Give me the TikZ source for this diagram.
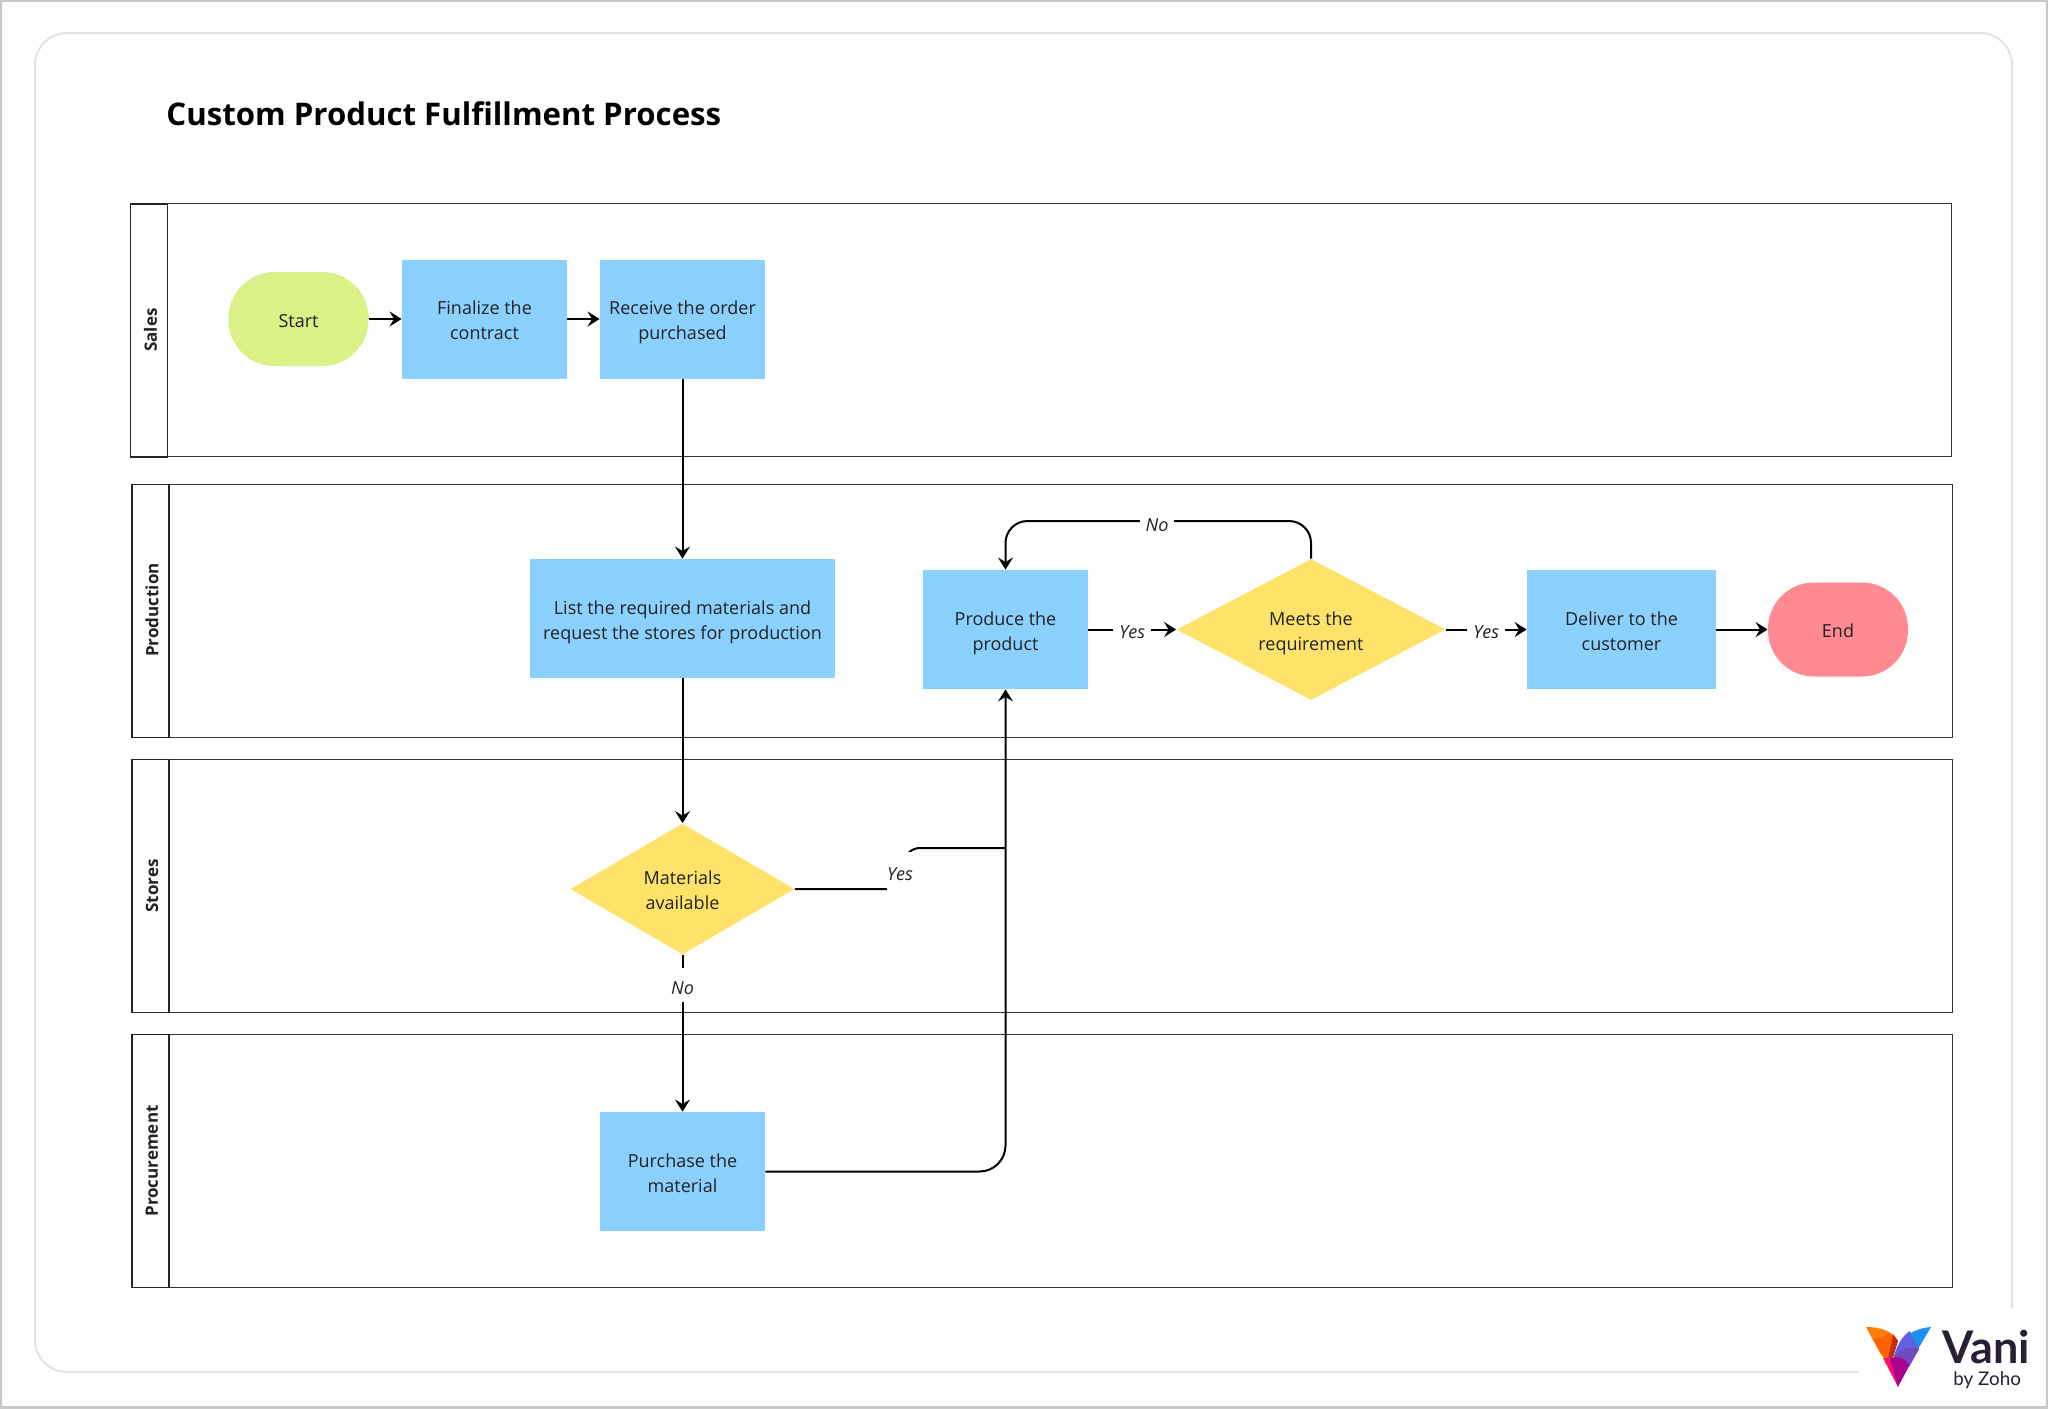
\documentclass[tikz,border=0pt]{standalone}
\usepackage{fontspec}
\setmainfont{Open Sans}
\newfontfamily\logofont{Lato}
\usetikzlibrary{shapes.geometric,arrows.meta}
\definecolor{boxblue}{HTML}{8AD1FF}
\definecolor{decyellow}{HTML}{FFE26A}
\definecolor{startgreen}{HTML}{DBF087}
\definecolor{endpink}{HTML}{FF8A92}
\definecolor{inktext}{HTML}{222222}
\definecolor{framegray}{HTML}{E2E2E2}
\definecolor{edgegray}{HTML}{C8C8C8}
\definecolor{vaniink}{HTML}{2A2035}
\definecolor{wingorange}{HTML}{FF8000}
\definecolor{wingred}{HTML}{FF6200}
\definecolor{wingdark}{HTML}{C42E10}
\definecolor{wingblue}{HTML}{2090F0}
\definecolor{wingviolet}{HTML}{6060E0}
\definecolor{wingmid}{HTML}{7048C0}
\definecolor{wingpink}{HTML}{FF0F6E}
\definecolor{wingplum}{HTML}{A8008F}
\tikzset{
	boxtext/.style={font=\fontsize{9}{12.5}\selectfont,text=inktext,align=center,text depth=0pt,text height=20.7pt},
	taskbox/.style={boxtext,fill=boxblue,minimum width=82.5pt,minimum height=59.5pt},
	decision/.style={boxtext,diamond,fill=decyellow,inner sep=0pt,aspect=2},
	terminal/.style={boxtext,text height=8.2pt,rounded corners=23pt,minimum width=70pt,minimum height=47pt},
	lanebody/.style={draw=black!80,line width=0.6pt,minimum height=126.5pt,anchor=north west,inner sep=0pt},
	lanehead/.style={draw=black!85,line width=0.8pt,minimum width=18.5pt,minimum height=126.5pt,anchor=north west,inner sep=0pt},
	lanetext/.style={font=\fontsize{8.5}{10}\selectfont\bfseries,text=inktext,rotate=90},
	flow/.style={line width=1pt,-{Stealth[length=6pt,width=7.5pt,inset=2.2pt]}},
	plainflow/.style={line width=1pt},
	edgelabel/.style={font=\fontsize{9}{11}\selectfont\itshape,text=inktext,fill=white,inner xsep=3pt,inner ysep=0pt,minimum height=17pt,text depth=0pt,text height=9pt}
}
\begin{document}
\begin{tikzpicture}[x=0.5pt,y=-0.5pt]
	\useasboundingbox (0,0) rectangle (2048,1408);
	\draw[edgegray,line width=2pt] (0,0) rectangle (2048,1408);
	\draw[framegray,line width=1pt,rounded corners=16pt] (35,33) rectangle (2012,1372);
	\fill[white] (1858,1308) rectangle (2040,1400);
	\node[anchor=west,inner sep=0pt,font=\fontsize{15.6}{20}\selectfont\bfseries] (title) at (166,114) {Custom Product Fulfillment Process};

	\foreach \lanekey/\lanename/\xleft/\ytop/\xright/\ytext in {sales/Sales/129.5/203/1951/330,production/Production/131/483.5/1952/610,stores/Stores/131/758.5/1952/886,procurement/Procurement/131/1033.5/1952/1161}{
		\node[lanebody,minimum width={(\xright-\xleft)*0.5pt}] (\lanekey) at (\xleft,\ytop) {};
		\node[lanehead] (\lanekey head) at (\xleft,\ytop) {};
		\node[lanetext] (\lanekey text) at (\xleft+21,\ytext) {\lanename};
	}

	\node[terminal,fill=startgreen] (start) at (298.5,319) {Start};
	\node[taskbox] (finalize) at (484.5,319) {Finalize the\\contract};
	\node[taskbox] (receive) at (682.5,319) {Receive the order\\purchased};
	\node[taskbox,minimum width=152.5pt] (list) at (682.5,618.5) {List the required materials and\\request the stores for production};
	\node[taskbox] (produce) at (1005.5,629.5) {Produce the\\product};
	\node[decision,minimum width=134.5pt,minimum height=70.5pt] (meets) at (1311,629.5) {Meets the\\requirement};
	\node[taskbox,minimum width=94.5pt] (deliver) at (1621.5,629.5) {Deliver to the\\customer};
	\node[terminal,fill=endpink] (end) at (1838,629.5) {End};
	\node[decision,minimum width=112pt,minimum height=65.5pt] (materials) at (682.5,889) {Materials\\available};
	\node[taskbox] (purchase) at (682.5,1171.5) {Purchase the\\material};

	\coordinate (yes bend) at (904,889);
	\coordinate (yes join) at (1005.5,848);
	\coordinate (no right) at (1311,521);
	\coordinate (no left) at (1005.5,521);
	\coordinate (buy bend) at (1005.5,1171.5);

	\draw[flow] (start) -- (finalize);
	\draw[flow] (finalize) -- (receive);
	\draw[flow] (receive) -- (list);
	\draw[flow] (list) -- (materials);
	\draw[flow] (materials) -- node[edgelabel,pos=0.195] (no materials) {No} (purchase);
	\draw[flow] (produce) -- node[edgelabel] (yes produce) {Yes} (meets);
	\draw[flow] (meets) -- node[edgelabel] (yes meets) {Yes} (deliver);
	\draw[flow] (deliver) -- (end);
	\draw[flow,rounded corners=11pt] (meets.north) -- (no right) -- (no left) -- (produce.north);
	\node[edgelabel] (no loop) at (1157,522) {No};
	\draw[flow,rounded corners=13pt] (purchase.east) -- (buy bend) -- (produce.south);
	\draw[plainflow,rounded corners=8pt] (materials.east) -- (yes bend) |- (yes join);
	\node[edgelabel,inner xsep=0pt,minimum height=20pt] (yes materials) at (900,871.5) {Yes};

	\fill[wingorange] (1866,1327) .. controls (1880,1327) and (1893,1331) .. (1898,1341) -- (1893,1353) -- (1887,1361) -- (1880,1353) -- cycle;
	\fill[wingred] (1873,1339) .. controls (1880,1338) and (1886,1336) .. (1888,1333) .. controls (1893,1336) and (1896,1338) .. (1898,1341) -- (1893,1353) -- (1885,1360) -- cycle;
	\fill[wingdark] (1893,1334) -- (1898,1341) -- (1892,1361) -- (1888,1357) .. controls (1890,1350) and (1892,1342) .. (1893,1334) -- cycle;
	\fill[wingblue] (1931,1327) .. controls (1918,1328) and (1908,1333) .. (1901,1341) -- (1912,1352) -- (1918,1349) -- cycle;
	\fill[wingviolet] (1910,1331) .. controls (1902,1336) and (1897,1345) .. (1893,1359) -- (1909,1365) -- (1919,1349) .. controls (1915,1343) and (1912,1337) .. (1910,1331) -- cycle;
	\fill[wingmid] (1893,1359) .. controls (1897,1350) and (1907,1346) .. (1919,1349) -- (1909,1367) -- cycle;
	\fill[wingpink] (1883,1358) -- (1893,1358) -- (1898,1387) -- cycle;
	\fill[wingplum] (1890,1359) .. controls (1898,1355) and (1906,1358) .. (1909,1366) -- (1898,1387) -- cycle;
	\node[anchor=base west,inner sep=0pt,text=vaniink,font=\logofont\fontsize{22.5}{26}\selectfont\bfseries] (vani) at (1942,1363) {Vani};
	\node[anchor=base west,inner sep=0pt,text=vaniink,font=\logofont\fontsize{9.4}{12}\selectfont] (by zoho) at (1953,1385) {by Zoho};
\end{tikzpicture}
\end{document}
